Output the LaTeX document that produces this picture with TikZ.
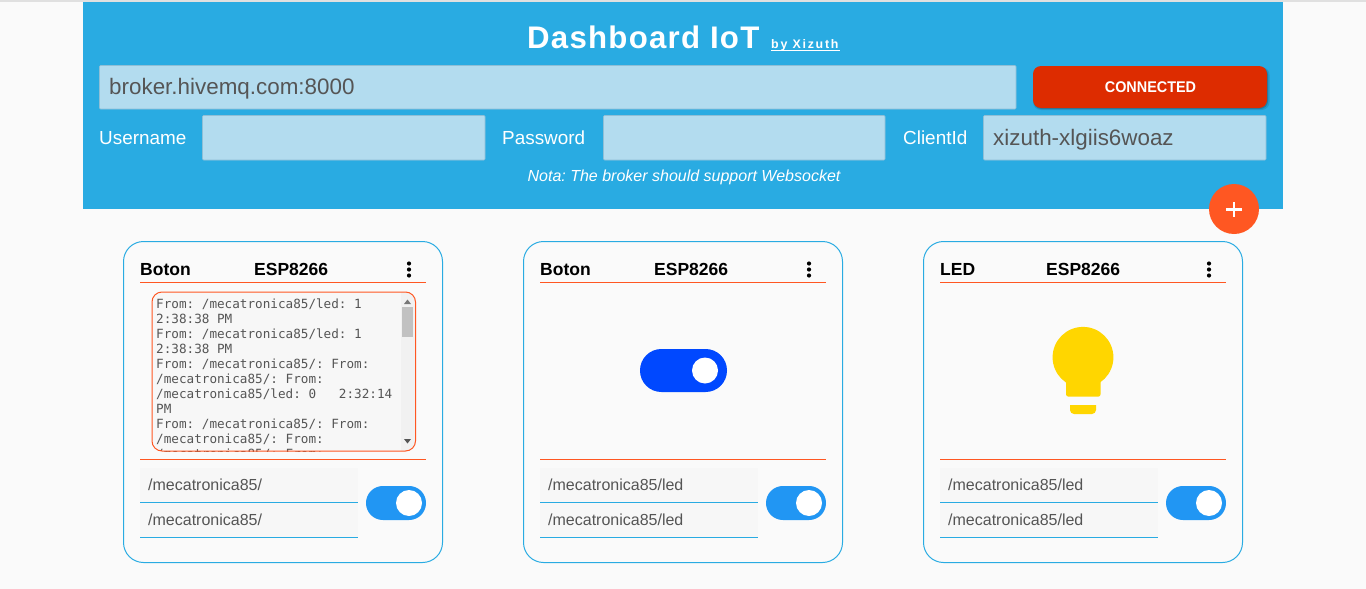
\documentclass[tikz,border=0pt]{standalone}
\usepackage{fontspec}
\setmainfont{Liberation Sans}
\newfontfamily\monof{DejaVu Sans Mono}
\newfontfamily\titlef[LetterSpace=4]{Liberation Sans}
\newfontfamily\byf[LetterSpace=14]{Liberation Sans}
\newfontfamily\condf[FakeStretch=.93]{Liberation Sans}
\definecolor{pagebg}{HTML}{FAFAFA}
\definecolor{headblue}{HTML}{29ABE2}
\definecolor{fieldblue}{HTML}{B3DCEF}
\definecolor{fieldedge}{HTML}{8FBFD6}
\definecolor{fieldtext}{HTML}{555555}
\definecolor{redbtn}{HTML}{DD2C00}
\definecolor{orangeac}{HTML}{FF5722}
\definecolor{toggleblue}{HTML}{2196F3}
\definecolor{deepblue}{HTML}{0048FF}
\definecolor{bulbyellow}{HTML}{FFD600}
\definecolor{inputgray}{HTML}{F7F7F7}
\definecolor{scrollgray}{HTML}{F1F1F1}
\definecolor{thumbgray}{HTML}{C1C1C1}
\tikzset{
  lbl/.style={inner sep=0pt,anchor=base west,font=\fontsize{18.9}{20}\selectfont,text=white},
  fieldtxt/.style={inner sep=0pt,anchor=base west,font=\fontsize{22.4}{24}\selectfont,text=fieldtext},
  toptxt/.style={inner sep=0pt,anchor=base west,font=\fontsize{16}{18}\selectfont,text=fieldtext},
  cardtxt/.style={inner sep=0pt,anchor=base west,font=\bfseries\fontsize{17.5}{20}\selectfont,text=black},
  logtxt/.style={inner sep=0pt,anchor=base west,font=\monof\fontsize{12.65}{15}\selectfont,text=fieldtext},
  field/.style={fill=fieldblue,draw=fieldedge,line width=.6pt,rounded corners=1pt},
  cardbox/.style={draw=headblue,line width=1pt,fill=pagebg,rounded corners=20pt},
  orangeline/.style={draw=orangeac,line width=1pt},
  blueline/.style={draw=headblue,line width=1pt},
  inputbg/.style={fill=inputgray,draw=none},
  knob/.style={fill=white,draw=none},
  dot/.style={fill=black,draw=none},
}
\newcommand{\cardbase}[5]{%
  \begin{scope}[xshift=#1pt]
    \draw[cardbox] (123.5,241.5) rectangle (442.5,562.5);
    \node[cardtxt] (#2title) at (140,275.5) {#3};
    \node[cardtxt] (#2esp) at (#4,275.5) {ESP8266};
    \fill[dot] (409,263.5) circle (2.1);
    \fill[dot] (409,269.5) circle (2.1);
    \fill[dot] (409,275.5) circle (2.1);
    \draw[orangeline] (140,282.5) -- (426,282.5);
    \draw[orangeline] (140,459.5) -- (426,459.5);
    \fill[inputbg] (140,468) rectangle (358,502);
    \fill[inputbg] (140,503) rectangle (358,537);
    \draw[blueline] (140,502.5) -- (358,502.5);
    \draw[blueline] (140,537.5) -- (358,537.5);
    \node[toptxt] (#2sub) at (148,490) {#5};
    \node[toptxt] (#2pub) at (148,525) {#5};
    \fill[toggleblue] (366,486) [rounded corners=16.9pt] rectangle (426,520);
    \fill[knob] (409,503) circle (13);
  \end{scope}}
\begin{document}
\frenchspacing
\begin{tikzpicture}[x=1pt,y=-1pt]
  \useasboundingbox (0,0) rectangle (1366,589);
  \fill[pagebg] (0,0) rectangle (1366,589);
  \fill[black!12] (0,0) rectangle (1366,1.5);
  % header
  \fill[headblue] (83,2) rectangle (1283,209);
  \node[inner sep=0pt,anchor=base west,font=\titlef\bfseries\fontsize{31.2}{34}\selectfont,text=white] (title) at (527,48) {Dashboard IoT};
  \node[inner sep=0pt,anchor=base west,font=\byf\bfseries\fontsize{12.4}{14}\selectfont,text=white] (by) at (771,48) {by Xizuth};
  \draw[white,line width=.9pt] (771,50.5) -- (839.5,50.5);
  \draw[field] (99.5,65.5) rectangle (1016,109);
  \node[fieldtxt] (broker) at (109,94) {broker.hivemq.com:8000};
  \fill[black,opacity=.10] (1033,67) [rounded corners=8pt] rectangle (1269.5,110);
  \fill[black,opacity=.18] (1033.5,67) [rounded corners=8pt] rectangle (1268,109);
  \fill[redbtn] (1033,66) [rounded corners=8pt] rectangle (1267,108);
  \node[inner sep=0pt,font=\condf\bfseries\fontsize{15.5}{18}\selectfont,text=white] (conn) at (1150.5,87) {CONNECTED};
  \node[lbl] (user) at (99,144) {Username};
  \draw[field] (202.5,115.5) rectangle (485,160);
  \node[lbl] (pass) at (502,144) {Password};
  \draw[field] (603.5,115.5) rectangle (885,160);
  \node[lbl] (cid) at (903,144) {ClientId};
  \draw[field] (983.5,115.5) rectangle (1266,160);
  \node[fieldtxt] (cidv) at (993,145) {xizuth-xlgiis6woaz};
  \node[inner sep=0pt,anchor=base,font=\itshape\fontsize{16}{18}\selectfont,text=white] (nota) at (684,181) {Nota: The broker should support Websocket};
  % fab
  \fill[orangeac] (1234,209) circle (25);
  \draw[white,line width=2.4pt] (1226.3,209.5) -- (1241.7,209.5);
  \draw[white,line width=2.4pt] (1234,201.8) -- (1234,217.2);
  % cards
  \cardbase{0}{a}{Boton}{254}{/mecatronica85/}
  \cardbase{400}{b}{Boton}{254}{/mecatronica85/led}
  \cardbase{800}{c}{LED}{246}{/mecatronica85/led}
  % log box
  \fill[inputgray,rounded corners=10pt] (152,292) rectangle (415.5,451);
  \begin{scope}
    \clip[rounded corners=10pt] (152,292) rectangle (415.5,451);
    \foreach \n/\y/\t in {l1/308/{From: /mecatronica85/led: 1},
                          l2/323/{2:38:38 PM},
                          l3/338/{From: /mecatronica85/led: 1},
                          l4/353/{2:38:38 PM},
                          l5/368/{From: /mecatronica85/: From:},
                          l6/383/{/mecatronica85/: From:},
                          l7/398/{/mecatronica85/led: 0\ \ \ 2:32:14},
                          l8/413/{PM},
                          l9/428/{From: /mecatronica85/: From:},
                          l10/443/{/mecatronica85/: From:},
                          l11/458/{/mecatronica85/: From:}}
      \node[logtxt] (\n) at (156,\y) {\t};
    \fill[scrollgray] (400.5,290) rectangle (417,453);
    \fill[thumbgray] (402,307) rectangle (413,337);
    \fill[fieldtext!80] (404,304) -- (411,304) -- (407.5,299.5) -- cycle;
    \fill[fieldtext] (404,439) -- (411,439) -- (407.5,443.5) -- cycle;
  \end{scope}
  \draw[orangeac,line width=1pt,rounded corners=10pt] (152,292) rectangle (415.5,451);
  % big toggle
  \fill[deepblue] (640,349) [rounded corners=21.4pt] rectangle (727,392);
  \fill[knob] (705,370.5) circle (13);
  % bulb
  \fill[bulbyellow] (1083,357.3) circle (30.4);
  \fill[bulbyellow,rounded corners=2.5pt] (1066,375) -- (1100.6,375) -- (1100.6,396.7) -- (1066,396.7) -- cycle;
  \fill[bulbyellow] (1070,405) -- (1096,405) -- (1096,410) arc (0:90:4) -- (1074,414) arc (90:180:4) -- cycle;
\end{tikzpicture}
\end{document}
